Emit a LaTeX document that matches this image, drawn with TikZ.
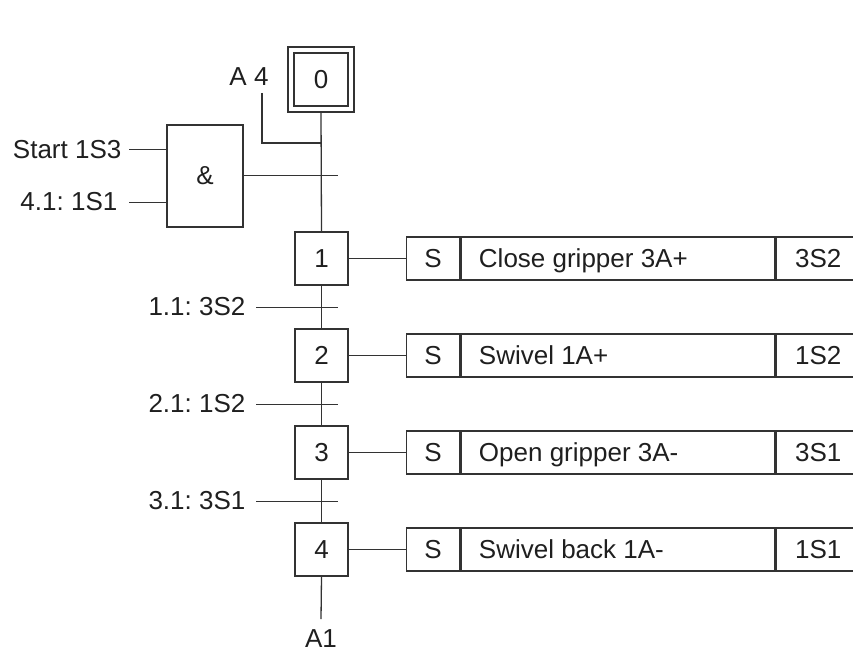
\documentclass[tikz,border=0pt]{standalone}
\usepackage{fontspec}
\setmainfont{Liberation Sans}
\frenchspacing
\begin{document}
\begin{tikzpicture}[x=1pt,y=-1pt,line width=1.3pt,
  every node/.style={text=black!88},
  lbl/.style={inner sep=0pt,font=\fontsize{26}{30}\selectfont},
  stepbox/.style={draw=black!80,minimum width=53pt,minimum height=53pt,inner sep=0pt,font=\fontsize{26}{30}\selectfont},
  cellS/.style={draw=black!80,anchor=west,minimum width=53pt,minimum height=43pt,inner sep=0pt,font=\fontsize{26}{30}\selectfont},
  cellA/.style={draw=black!80,anchor=west,minimum width=314pt,inner xsep=18pt,inner ysep=0pt,minimum height=43pt,text height=18.7pt,text depth=0pt,font=\fontsize{26}{30}\selectfont},
  cellQ/.style={draw=black!80,anchor=west,minimum width=84pt,minimum height=43pt,inner sep=0pt,font=\fontsize{26}{30}\selectfont},
  wire/.style={draw=black!80}]
\useasboundingbox (0,0) rectangle (853,655);

% initial step
\node[stepbox,minimum width=66pt,minimum height=65pt] (s0o) at (321,79.5) {};
\node[stepbox,minimum width=54pt,minimum height=53pt] (s0) at (321,79.5) {0};

% steps
\node[stepbox] (s1) at (321.5,258.5) {1};
\node[stepbox] (s2) at (321.5,355.5) {2};
\node[stepbox] (s3) at (321.5,452.5) {3};
\node[stepbox] (s4) at (321.5,549.5) {4};

% AND box
\node[draw=black!80,minimum width=76pt,minimum height=102pt,inner sep=0pt,font=\fontsize{26}{30}\selectfont] (and) at (205,176) {\&};

% labels
\node[lbl] (a4) at (249,77) {A 4};
\node[lbl,anchor=east] (in1) at (122,150) {Start 1S3};
\node[lbl,anchor=east] (in2) at (118,202) {4.1: 1S1};
\node[lbl,anchor=east] (t1l) at (246,307) {1.1: 3S2};
\node[lbl,anchor=east] (t2l) at (246,404) {2.1: 1S2};
\node[lbl,anchor=east] (t3l) at (246,501) {3.1: 3S1};
\node[lbl] (a1) at (321,639) {A1};

% coordinates
\coordinate (a4top) at (262,93);
\coordinate (j0) at (321,143);
\coordinate (t0e) at (338,176);
\coordinate (in1s) at (129,150);
\coordinate (in2s) at (129,202);
\coordinate (t1s) at (256,307);
\coordinate (t1e) at (338,307);
\coordinate (t2s) at (256,404);
\coordinate (t2e) at (338,404);
\coordinate (t3s) at (256,501);
\coordinate (t3e) at (338,501);
\coordinate (a1top) at (321,619);

% actions
\foreach \i/\act/\q in {1/Close gripper 3A+/3S2, 2/Swivel 1A+/1S2, 3/Open gripper 3A-/3S1, 4/Swivel back 1A-/1S1}{
  \node[cellS] (as\i) at (406,{161.5+97*\i}) {S};
  \node[cellA] (aa\i) at (as\i.east) {\makebox[278pt][l]{\act}};
  \node[cellQ] (aq\i) at (aa\i.east) {\q};
  \draw[wire] (s\i.east) -- (as\i.west);
}

% main line
\draw[wire] (s0o.south) -- (s1.north);
\draw[wire] (s1.south) -- (s2.north);
\draw[wire] (s2.south) -- (s3.north);
\draw[wire] (s3.south) -- (s4.north);
\draw[wire] (s4.south) -- (a1top);

% A4 return
\draw[wire] (a4top) |- (j0);

% transitions
\draw[wire,line width=1pt] (and.east |- t0e) -- (t0e);
\draw[wire,line width=1pt] (in1s) -- (in1s -| and.west);
\draw[wire,line width=1pt] (in2s) -- (in2s -| and.west);
\draw[wire,line width=1pt] (t1s) -- (t1e);
\draw[wire,line width=1pt] (t2s) -- (t2e);
\draw[wire,line width=1pt] (t3s) -- (t3e);
\end{tikzpicture}
\end{document}
